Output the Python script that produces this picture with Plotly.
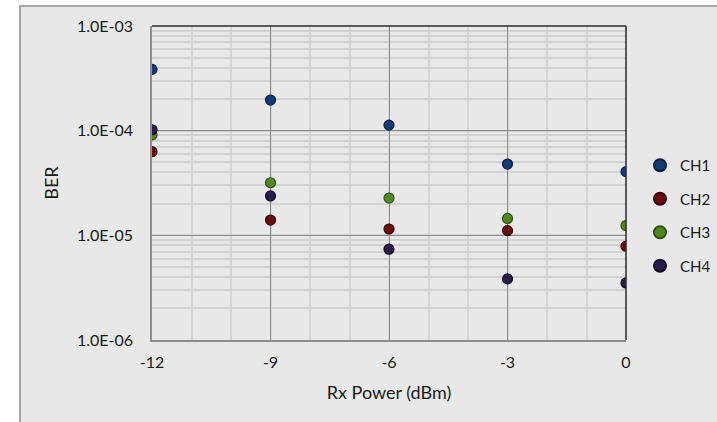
import plotly.graph_objects as go

rx_power = [-12, -9, -6, -3, 0]
ch1 = [3.85e-4, 1.96e-4, 1.13e-4, 4.8e-5, 4.06e-5]
ch2 = [6.3e-5, 1.40e-5, 1.15e-5, 1.11e-5, 7.87e-6]
ch3 = [9.1e-5, 3.18e-5, 2.27e-5, 1.45e-5, 1.24e-5]
ch4 = [1.02e-4, 2.38e-5, 7.37e-6, 3.84e-6, 3.51e-6]
names = ["CH1", "CH2", "CH3", "CH4"]
fills = ["#0f3d7a", "#6e0c0c", "#4f8a1c", "#2b1a4e"]
edges = ["#081f42", "#360404", "#2e5210", "#130a26"]
y_ticks = [1e-6, 1e-5, 1e-4, 1e-3]
y_tick_labels = ["1.0E-06", "1.0E-05", "1.0E-04", "1.0E-03"]
x_ticks = [-12, -9, -6, -3, 0]

FONT = "Lato"
W, H = 717, 422
L, R, T, B = 152, 91, 26, 82
pw, ph = W - L - R, H - T - B

fig = go.Figure()
for i, (nm, ys) in enumerate(zip(names, [ch1, ch2, ch3, ch4])):
    fig.add_trace(go.Scatter(
        x=rx_power, y=ys, mode="markers", name=nm, legendgroup=nm,
        marker=dict(size=10, color=fills[i], line=dict(color=edges[i], width=1.2)),
    ))

def px_x(p):
    return (p - L) / pw

def px_y(p):
    return (H - B - p) / ph

shapes = [
    dict(type="rect", xref="paper", yref="paper", layer="below",
         x0=px_x(20), x1=px_x(W + 5), y0=px_y(H + 5), y1=px_y(6),
         fillcolor="#e8e8e8", line=dict(color="#a6a6a6", width=2)),
    dict(type="line", xref="paper", yref="paper", x0=0, x1=1, y0=1, y1=1,
         line=dict(color="#2a2a2a", width=1.5)),
    dict(type="line", xref="paper", yref="paper", x0=1, x1=1, y0=0, y1=1,
         line=dict(color="#2a2a2a", width=1.5)),
]

fig.update_layout(
    width=W, height=H,
    margin=dict(l=L, r=R, t=T, b=B, pad=0, autoexpand=False),
    paper_bgcolor="white",
    plot_bgcolor="#e8e8e8",
    font=dict(family=FONT, size=16, color="#1a1a1a"),
    shapes=shapes,
    showlegend=True,
    legend=dict(x=px_x(640), xanchor="left", y=px_y(149), yanchor="top",
                bgcolor="rgba(0,0,0,0)", font=dict(size=15, family=FONT),
                tracegroupgap=11, itemsizing="constant"),
    xaxis=dict(
        range=[-12, 0], tickvals=x_ticks, ticktext=[str(v) for v in x_ticks],
        showgrid=True, gridcolor="#8c8c8c", gridwidth=1,
        minor=dict(dtick=1, showgrid=True, gridcolor="#d6d6d6", gridwidth=1.5),
        showline=True, linecolor="#8c8c8c", linewidth=1.5,
        zeroline=False, ticks="", ticklabelstandoff=7,
        title=dict(text="Rx Power (dBm)", font=dict(size=18), standoff=16),
    ),
    yaxis=dict(
        type="log", range=[-6, -3], tickvals=y_ticks, ticktext=y_tick_labels,
        showgrid=True, gridcolor="#8c8c8c", gridwidth=1,
        minor=dict(dtick="D1", showgrid=True, gridcolor="#d2d2d2", gridwidth=1.5),
        showline=True, linecolor="#8c8c8c", linewidth=1.5,
        zeroline=False, ticks="", ticklabelstandoff=14,
        title=dict(text="BER", font=dict(size=18), standoff=14),
    ),
)

fig.write_html(
    "out.html",
    config={"displayModeBar": False},
    post_script="document.body.style.margin='0';document.body.style.overflow='hidden';",
)
